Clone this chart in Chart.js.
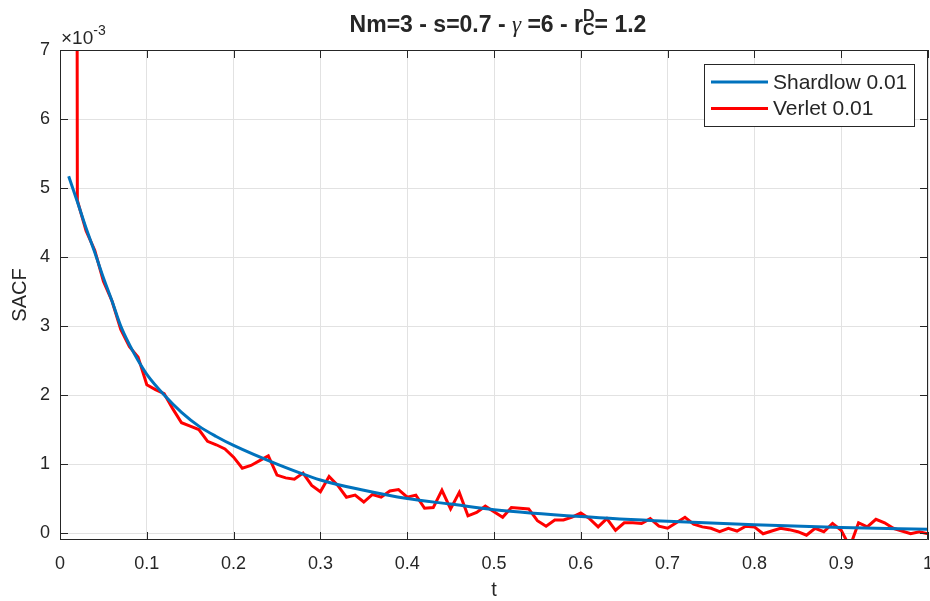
<!DOCTYPE html>
<html>
<head>
<meta charset="utf-8">
<script src="https://cdn.jsdelivr.net/npm/chart.js@4.4.1/dist/chart.umd.min.js"></script>
<style>
  html, body { margin: 0; padding: 0; background: #fff; }
</style>
</head>
<body>
<canvas id="graficoSacf" width="930" height="601"></canvas>
<script>
// valores em unidades de 1e-3 (o eixo mostra x10^-3)
const tShardlow = [0.01, 0.02, 0.03, 0.04, 0.05, 0.06, 0.07, 0.08, 0.09, 0.10, 0.12, 0.14, 0.16, 0.18, 0.20,
                   0.25, 0.30, 0.35, 0.40, 0.45, 0.50, 0.60, 0.70, 0.80, 0.90, 1.00];
const sacfShardlow = [5.17, 4.80, 4.42, 4.07, 3.70, 3.36, 3.00, 2.73, 2.50, 2.30, 2.00, 1.75, 1.55, 1.40, 1.27,
                      1.00, 0.77, 0.62, 0.50, 0.42, 0.34, 0.24, 0.17, 0.12, 0.08, 0.055];

const tVerlet = [0.01, 0.02, 0.03, 0.04, 0.05, 0.06, 0.07, 0.08, 0.09, 0.10,
                 0.11, 0.12, 0.13, 0.14, 0.15, 0.16, 0.17, 0.18, 0.19, 0.20,
                 0.21, 0.22, 0.23, 0.24, 0.25, 0.26, 0.27, 0.28, 0.29, 0.30,
                 0.31, 0.32, 0.33, 0.34, 0.35, 0.36, 0.37, 0.38, 0.39, 0.40,
                 0.41, 0.42, 0.43, 0.44, 0.45, 0.46, 0.47, 0.48, 0.49, 0.50,
                 0.51, 0.52, 0.53, 0.54, 0.55, 0.56, 0.57, 0.58, 0.59, 0.60,
                 0.61, 0.62, 0.63, 0.64, 0.65, 0.66, 0.67, 0.68, 0.69, 0.70,
                 0.71, 0.72, 0.73, 0.74, 0.75, 0.76, 0.77, 0.78, 0.79, 0.80,
                 0.81, 0.82, 0.83, 0.84, 0.85, 0.86, 0.87, 0.88, 0.89, 0.90,
                 0.91, 0.92, 0.93, 0.94, 0.95, 0.96, 0.97, 0.98, 0.99, 1.00];
const sacfVerlet = [100, 4.82, 4.38, 4.10, 3.65, 3.36, 2.95, 2.70, 2.55, 2.15,
                    2.08, 2.02, 1.80, 1.60, 1.55, 1.50, 1.33, 1.28, 1.22, 1.10,
                    0.94, 0.98, 1.05, 1.12, 0.84, 0.80, 0.78, 0.87, 0.69, 0.60,
                    0.82, 0.69, 0.52, 0.55, 0.45, 0.56, 0.52, 0.61, 0.63, 0.52,
                    0.55, 0.36, 0.37, 0.62, 0.35, 0.59, 0.25, 0.30, 0.39, 0.31,
                    0.23, 0.37, 0.36, 0.35, 0.18, 0.10, 0.19, 0.19, 0.23, 0.29,
                    0.21, 0.09, 0.21, 0.04, 0.15, 0.15, 0.14, 0.21, 0.10, 0.07,
                    0.15, 0.23, 0.13, 0.09, 0.07, 0.02, 0.07, 0.03, 0.10, 0.09,
                    -0.01, 0.03, 0.07, 0.05, 0.02, -0.03, 0.07, 0.02, 0.14, 0.04,
                    -0.20, 0.15, 0.09, 0.20, 0.15, 0.07, 0.03, -0.01, 0.02, -0.01];

const xTicks = [0, 0.1, 0.2, 0.3, 0.4, 0.5, 0.6, 0.7, 0.8, 0.9, 1];
const yTicks = [0, 1, 2, 3, 4, 5, 6, 7];

const fonte = '"Liberation Sans", Arial, Helvetica, sans-serif';
const corEixo = '#262626';

// caixa, ticks para dentro, titulo e legenda no estilo do MATLAB
const decoracao = {
    id: 'decoracao',
    afterDraw(chart) {
        const ctx = chart.ctx;
        const a = chart.chartArea;
        const sx = chart.scales.x;
        const sy = chart.scales.y;
        ctx.save();
        ctx.strokeStyle = corEixo;
        ctx.lineWidth = 1;
        ctx.beginPath();
        ctx.rect(Math.round(a.left) + 0.5, Math.round(a.top) + 0.5,
                 Math.round(a.right - a.left) - 1, Math.round(a.bottom - a.top) - 1);
        ctx.stroke();

        const tam = 8;
        ctx.beginPath();
        xTicks.forEach(v => {
            const px = Math.round(sx.getPixelForValue(v)) + 0.5;
            ctx.moveTo(px, a.bottom); ctx.lineTo(px, a.bottom - tam);
            ctx.moveTo(px, a.top); ctx.lineTo(px, a.top + tam);
        });
        yTicks.forEach(v => {
            const py = Math.round(sy.getPixelForValue(v)) + 0.5;
            ctx.moveTo(a.left, py); ctx.lineTo(a.left + tam, py);
            ctx.moveTo(a.right, py); ctx.lineTo(a.right - tam, py);
        });
        ctx.stroke();

        // x10^-3
        ctx.fillStyle = corEixo;
        ctx.textBaseline = 'alphabetic';
        ctx.textAlign = 'left';
        ctx.font = '19px ' + fonte;
        ctx.fillText('\u00d710', a.left + 1, 44);
        const w10 = ctx.measureText('\u00d710').width;
        ctx.font = '14px ' + fonte;
        ctx.fillText('-3', a.left + 1 + w10, 35);

        // titulo
        const negrito = 'bold 23px ' + fonte;
        const pedacos = [
            { t: 'Nm=3 - s=0.7 - ', f: negrito },
            { t: '\u03b3', f: 'italic 23px "Liberation Serif", "DejaVu Serif", serif' },
            { t: ' =6 - r', f: negrito },
            { sup: 'D', sub: 'C', f: 'bold 16px ' + fonte },
            { t: '= 1.2', f: negrito }
        ];
        let total = 0;
        pedacos.forEach(p => {
            ctx.font = p.f;
            p.w = p.t ? ctx.measureText(p.t).width : Math.max(ctx.measureText(p.sup).width, ctx.measureText(p.sub).width);
            total += p.w;
        });
        let x = (a.left + a.right) / 2 + 4 - total / 2;
        const base = 32;
        pedacos.forEach(p => {
            ctx.font = p.f;
            if (p.t) {
                ctx.fillText(p.t, x, base);
            } else {
                ctx.fillText(p.sup, x, base - 11);
                ctx.fillText(p.sub, x, base + 3);
            }
            x += p.w;
        });

        // legenda
        const lx = 704, ly = 64, lw = 210, lh = 62;
        ctx.fillStyle = '#fff';
        ctx.fillRect(lx, ly, lw, lh);
        ctx.strokeStyle = corEixo;
        ctx.strokeRect(lx + 0.5, ly + 0.5, lw, lh);
        ctx.font = '21px ' + fonte;
        ctx.textBaseline = 'middle';
        chart.data.datasets.forEach((ds, i) => {
            const yy = ly + 18 + i * 26.5;
            ctx.strokeStyle = ds.borderColor;
            ctx.lineWidth = 3;
            ctx.beginPath();
            ctx.moveTo(lx + 7, yy); ctx.lineTo(lx + 64, yy);
            ctx.stroke();
            ctx.fillStyle = corEixo;
            ctx.fillText(ds.label, lx + 69, yy + 1);
        });
        ctx.restore();
    }
};

const ctx = document.getElementById('graficoSacf').getContext('2d');
new Chart(ctx, {
    type: 'line',
    data: {
        datasets: [
            {
                label: 'Shardlow 0.01',
                data: tShardlow.map((t, i) => ({ x: t, y: sacfShardlow[i] })),
                borderColor: '#0072BD',
                borderWidth: 3,
                pointRadius: 0,
                cubicInterpolationMode: 'monotone',
                fill: false
            },
            {
                label: 'Verlet 0.01',
                data: tVerlet.map((t, i) => ({ x: t, y: sacfVerlet[i] })),
                borderColor: '#FF0000',
                borderWidth: 3,
                pointRadius: 0,
                tension: 0,
                fill: false
            }
        ]
    },
    options: {
        responsive: false,
        animation: false,
        devicePixelRatio: 1,
        layout: { padding: { top: 50, right: 2, left: 0, bottom: 0 } },
        plugins: { legend: { display: false }, tooltip: { enabled: false }, title: { display: false } },
        scales: {
            x: {
                type: 'linear',
                min: 0,
                max: 1,
                afterBuildTicks: s => { s.ticks = xTicks.map(v => ({ value: v })); },
                afterFit: s => { s.height = 61; s.paddingLeft = 0; s.paddingRight = 0; },
                ticks: {
                    callback: v => String(v),
                    font: { size: 18, family: fonte },
                    color: corEixo,
                    padding: 13,
                    maxRotation: 0,
                    autoSkip: false
                },
                grid: { color: '#e2e2e2', drawTicks: false },
                border: { display: false },
                title: {
                    display: true,
                    text: 't',
                    color: corEixo,
                    font: { size: 20, family: fonte, lineHeight: 1 },
                    padding: { top: 0, bottom: 1 }
                }
            },
            y: {
                min: -0.1,
                max: 7,
                afterBuildTicks: s => { s.ticks = yTicks.map(v => ({ value: v })); },
                afterFit: s => { s.width = 60; s.paddingTop = 0; s.paddingBottom = 0; },
                ticks: {
                    callback: v => String(v),
                    font: { size: 18, family: fonte },
                    color: corEixo,
                    padding: 10
                },
                grid: { color: '#e2e2e2', drawTicks: false },
                border: { display: false },
                title: {
                    display: true,
                    text: 'SACF',
                    color: corEixo,
                    font: { size: 20, family: fonte, lineHeight: 1 },
                    padding: { top: 10, bottom: 0 }
                }
            }
        }
    },
    plugins: [decoracao]
});
</script>
</body>
</html>
